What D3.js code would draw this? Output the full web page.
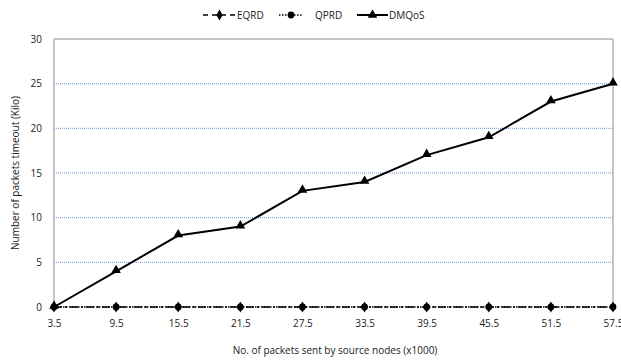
<!DOCTYPE html>
<html>
<head>
<meta charset="utf-8">
<script src="https://cdn.jsdelivr.net/npm/d3@7"></script>
<style>
  html, body { margin: 0; padding: 0; background: #fff; }
  svg text { font-family: "Open Sans", "Noto Sans", sans-serif; fill: #222; }
</style>
</head>
<body>
<svg id="chart" width="621" height="361"></svg>
<script>
// Packets sent (x1000) and timed-out packets (Kilo) per protocol
const categories = ["3.5", "9.5", "15.5", "21.5", "27.5", "33.5", "39.5", "45.5", "51.5", "57.5"];
const eqrd  = [0, 0, 0, 0, 0, 0, 0, 0, 0, 0];
const qprd  = [0, 0, 0, 0, 0, 0, 0, 0, 0, 0];
const dmqos = [0, 4, 8, 9, 13, 14, 17, 19, 23, 25];
const yTicks = [0, 5, 10, 15, 20, 25, 30];
const seriesNames = ["EQRD", "QPRD", "DMQoS"];

const svg = d3.select("#chart");
const m = { left: 54, right: 8, top: 39, bottom: 54 };
const W = 621, H = 361;

const x = d3.scalePoint().domain(categories).range([m.left, W - m.right]);
const y = d3.scaleLinear().domain([0, 30]).range([H - m.bottom, m.top]);

// horizontal dotted gridlines
svg.append("g").selectAll("line").data(yTicks.filter(t => t > 0 && t < 30)).join("line")
  .attr("x1", m.left).attr("x2", W - m.right)
  .attr("y1", d => y(d)).attr("y2", d => y(d))
  .attr("stroke", "#6f9ad8").attr("stroke-width", 1).attr("stroke-dasharray", "1,1");

// plot frame (left, top, right)
svg.append("path")
  .attr("d", `M${m.left},${H - m.bottom}V${m.top}H${W - m.right}V${H - m.bottom}`)
  .attr("fill", "none").attr("stroke", "#8c8c8c").attr("stroke-width", 1);

// axes
const yAxis = svg.append("g").attr("transform", `translate(${m.left},0)`)
  .call(d3.axisLeft(y).tickValues(yTicks).tickSize(0).tickPadding(12));
yAxis.select(".domain").remove();
yAxis.selectAll("text").style("font-size", "10px");

const xAxis = svg.append("g").attr("transform", `translate(0,${H - m.bottom})`)
  .call(d3.axisBottom(x).tickSize(0).tickPadding(13));
xAxis.select(".domain").remove();
xAxis.selectAll("text").style("font-size", "10px");

// axis titles
svg.append("text").attr("x", 335).attr("y", 354).attr("text-anchor", "middle")
  .style("font-size", "10px").text("No. of packets sent by source nodes (x1000)");
svg.append("text").attr("transform", `translate(19,${(m.top + H - m.bottom) / 2}) rotate(-90)`)
  .attr("text-anchor", "middle").style("font-size", "10px")
  .text("Number of packets timeout (Kilo)");

const line = d3.line().x((d, i) => x(categories[i])).y(d => y(d));

// series
svg.append("path").datum(eqrd).attr("d", line).attr("fill", "none")
  .attr("stroke", "#000").attr("stroke-width", 1.3).attr("stroke-dasharray", "8,3,2,3");
svg.append("path").datum(qprd).attr("d", line).attr("fill", "none")
  .attr("stroke", "#000").attr("stroke-width", 1.3).attr("stroke-dasharray", "1.5,1.5");
svg.append("path").datum(dmqos).attr("d", line).attr("fill", "none")
  .attr("stroke", "#000").attr("stroke-width", 2);

const diamond = d3.symbol().type(d3.symbolDiamond).size(34);
const circle = d3.symbol().type(d3.symbolCircle).size(36);
const tri = d3.symbol().type(d3.symbolTriangle).size(40);

svg.append("g").selectAll("path").data(eqrd).join("path")
  .attr("transform", (d, i) => `translate(${x(categories[i])},${y(d)})`).attr("d", diamond);
svg.append("g").selectAll("path").data(qprd).join("path")
  .attr("transform", (d, i) => `translate(${x(categories[i])},${y(d)})`).attr("d", circle);
svg.append("g").selectAll("path").data(dmqos).join("path")
  .attr("transform", (d, i) => `translate(${x(categories[i])},${y(d) - 1})`).attr("d", tri);

// legend
const leg = svg.append("g");
const legItems = [
  { name: seriesNames[0], x0: 203, x1: 236, dash: "5,4", sym: diamond, w: 1.3 },
  { name: seriesNames[1], x0: 279, x1: 303, dash: "1.5,1.5", sym: circle, w: 1.3 },
  { name: seriesNames[2], x0: 357, x1: 388, dash: null, sym: tri, w: 2 }
];
const ly = 15;
legItems.forEach(it => {
  leg.append("line").attr("x1", it.x0).attr("x2", it.x1).attr("y1", ly).attr("y2", ly)
    .attr("stroke", "#000").attr("stroke-width", it.w).attr("stroke-dasharray", it.dash);
  leg.append("path").attr("transform", `translate(${(it.x0 + it.x1) / 2},${ly})`).attr("d", it.sym);
  leg.append("text").attr("x", it.x1 + (it.name === "QPRD" ? 12 : 1)).attr("y", ly + 3.5)
    .style("font-size", "10px").text(it.name);
});
</script>
</body>
</html>
